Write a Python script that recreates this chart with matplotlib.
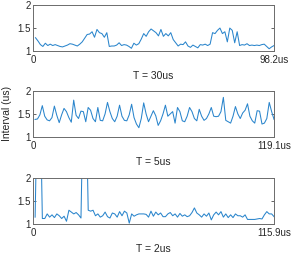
import numpy as np
import matplotlib
matplotlib.use("Agg")
import matplotlib.pyplot as plt

# interval traces (us)
t30_end = 98.2
t30_vals = [1.29, 1.22, 1.14, 1.10, 1.17, 1.12, 1.15, 1.12, 1.14, 1.12,
            1.10, 1.09, 1.11, 1.13, 1.16, 1.15, 1.13, 1.11, 1.15, 1.20,
            1.28, 1.36, 1.37, 1.42, 1.30, 1.47, 1.40, 1.38, 1.30, 1.40,
            1.10, 1.11, 1.11, 1.13, 1.18, 1.12, 1.14, 1.13, 1.10, 1.06,
            1.17, 1.13, 1.16, 1.26, 1.38, 1.32, 1.42, 1.48, 1.44, 1.40,
            1.33, 1.47, 1.32, 1.38, 1.33, 1.40, 1.25, 1.18, 1.11, 1.15,
            1.14, 1.20, 1.11, 1.08, 1.13, 1.10, 1.07, 1.14, 1.13, 1.15,
            1.12, 1.15, 1.40, 1.38, 1.45, 1.50, 1.38, 1.42, 1.20, 1.50,
            1.45, 1.18, 1.42, 1.12, 1.14, 1.13, 1.16, 1.12, 1.13, 1.12,
            1.13, 1.12, 1.14, 1.15, 1.10, 1.05, 1.09, 1.12]

t5_end = 119.1
t5_vals = [1.38, 1.39, 1.48, 1.68, 1.45, 1.37, 1.35, 1.42, 1.67, 1.47,
           1.31, 1.48, 1.62, 1.55, 1.42, 1.32, 1.80, 1.47, 1.40, 1.56,
           1.55, 1.33, 1.64, 1.58, 1.40, 1.33, 1.64, 1.36, 1.35, 1.50,
           1.75, 1.55, 1.40, 1.33, 1.45, 1.69, 1.45, 1.36, 1.35, 1.48,
           1.71, 1.42, 1.28, 1.20, 1.40, 1.74, 1.50, 1.33, 1.45, 1.57,
           1.46, 1.25, 1.35, 1.50, 1.69, 1.45, 1.50, 1.55, 1.30, 1.64,
           1.55, 1.35, 1.33, 1.45, 1.64, 1.55, 1.40, 1.35, 1.60, 1.45,
           1.36, 1.40, 1.50, 1.64, 1.45, 1.44, 1.45, 1.55, 1.86, 1.36,
           1.33, 1.30, 1.45, 1.66, 1.50, 1.40, 1.52, 1.58, 1.72, 1.45,
           1.35, 1.30, 1.57, 1.56, 1.28, 1.30, 1.40, 1.75, 1.55, 1.38]

t2_end = 115.9
t2_vals = [1.15, 4.00, 4.00, 1.12, 1.12, 1.22, 1.15, 1.20, 1.14, 1.22,
           1.18, 1.12, 1.17, 1.06, 1.30, 1.26, 1.22, 1.25, 1.20, 1.13,
           4.00, 4.00, 1.30, 1.28, 1.30, 1.18, 1.22, 1.15, 1.18, 1.26,
           1.16, 1.13, 1.24, 1.22, 1.15, 1.27, 1.18, 1.28, 1.24, 1.02,
           1.22, 1.17, 1.20, 1.22, 1.22, 1.22, 1.21, 1.15, 1.28, 1.17,
           1.26, 1.20, 1.24, 1.16, 1.16, 1.22, 1.25, 1.18, 1.22, 1.15,
           1.23, 1.17, 1.20, 1.16, 1.18, 1.25, 1.35, 1.24, 1.20, 1.15,
           1.22, 1.17, 1.24, 1.09, 1.20, 1.26, 1.20, 1.27, 1.15, 1.22,
           1.14, 1.20, 1.14, 1.22, 1.18, 1.18, 1.15, 1.20, 1.10, 1.10,
           1.10, 1.10, 1.11, 1.12, 1.11, 1.20, 1.27, 1.22, 1.22, 1.16]

titles = ["T = 30us", "T = 5us", "T = 2us"]
ends = [t30_end, t5_end, t2_end]
series = [t30_vals, t5_vals, t2_vals]

plt.rcParams['font.family'] = ['Liberation Sans', 'DejaVu Sans']

fig = plt.figure(figsize=(2.95, 2.54), dpi=100)
# axes boxes in figure fractions (left, bottom, width, height)
boxes = [(0.112, 0.799, 0.817, 0.181),
         (0.112, 0.461, 0.817, 0.181),
         (0.112, 0.118, 0.817, 0.181)]

for i, (vals, end, title) in enumerate(zip(series, ends, titles)):
    ax = fig.add_axes(boxes[i])
    x = np.linspace(1, end, len(vals))
    ax.plot(x, vals, color='#2a85cc', lw=0.75)
    ax.set_xlim(0, end)
    ax.set_ylim(1, 2)
    ax.set_xticks([0, end])
    ax.set_xticklabels(["0", f"{end}us"])
    ax.set_yticks([1, 1.5, 2])
    ax.set_yticklabels(["1", "1.5", "2"])
    ax.tick_params(direction='in', length=2.5, width=0.5, labelsize=7,
                   colors='#262626', right=True, top=False, pad=1.5)
    ax.tick_params(axis='x', length=0, pad=3)
    for s in ax.spines.values():
        s.set_color('#6b6b6b')
        s.set_linewidth(0.7)
    ax.set_xlabel(title, fontsize=7.5, color='#262626', labelpad=4)
    if i == 1:
        ax.set_ylabel("Interval (us)", fontsize=7.5, color='#262626', labelpad=4)

fig.savefig("out.png", dpi=100)
